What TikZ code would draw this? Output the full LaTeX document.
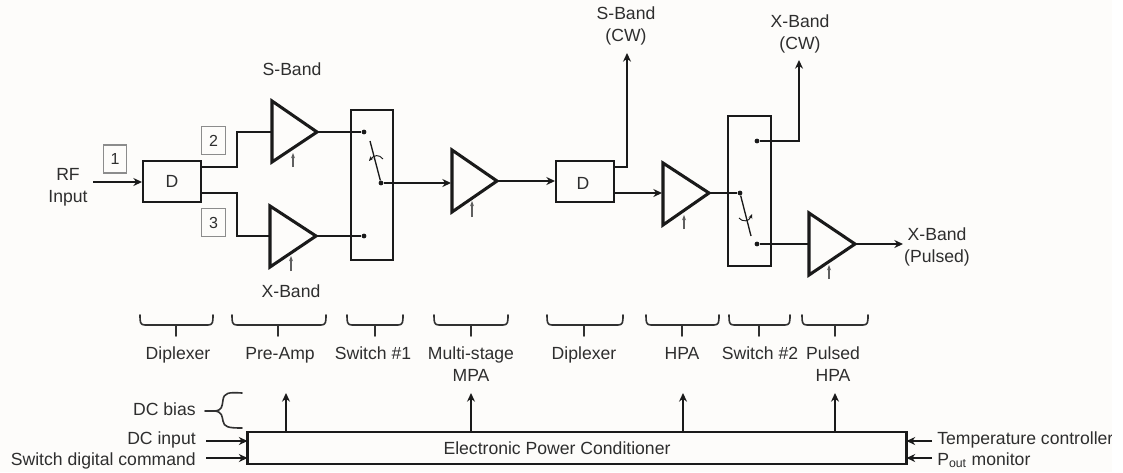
\documentclass[tikz,border=0pt]{standalone}
\usepackage{fontspec}
\setmainfont{Liberation Sans}
\usetikzlibrary{arrows.meta}
\definecolor{ink}{HTML}{1A1A1A}
\definecolor{txt}{HTML}{2E2E2E}
\definecolor{paper}{HTML}{FDFCFA}
\tikzset{
  wire/.style={draw=ink,line width=1.9pt},
  wirearrow/.style={wire,-{Stealth[length=6.5pt,width=6pt]}},
  thinarrow/.style={draw=ink!70,line width=0.9pt,-{Stealth[length=4pt,width=3pt]}},
  amp/.style={draw=ink,line width=2.3pt,line join=miter,fill=none},
  blk/.style={draw=ink,line width=1.9pt,inner sep=0pt,outer sep=0pt,font=\fontsize{13.2pt}{15pt}\selectfont,text=txt},
  epc/.style={draw=ink,line width=1.7pt,inner sep=0pt,outer sep=0pt,font=\fontsize{13.2pt}{15pt}\selectfont,text=txt},
  tag/.style={draw=ink!50,line width=0.9pt,inner sep=0pt,outer sep=0pt,font=\fontsize{12pt}{14pt}\selectfont,text=txt,minimum width=17.5pt,minimum height=21pt},
  lbl/.style={inner sep=0pt,text=txt,align=center,font=\fontsize{13.2pt}{16.5pt}\selectfont},
  one/.style={lbl,text height=10pt,text depth=0.5pt},
  dot/.style={circle,fill=ink,inner sep=0pt,minimum size=3.6pt},
  brc/.style={draw=ink!90,line width=1.2pt,line cap=round},
}
\newcommand\underbrc[3]{%
  \draw[brc] (#1,315) .. controls (#1,322) and (#1,325) .. (#1+5,325) -- (#2-5,325) .. controls (#2,325) and (#2,322) .. (#2,315);
  \draw[brc] (#3,325) -- (#3,336);}
\begin{document}
\begin{tikzpicture}[x=0.75pt,y=-0.75pt]
\useasboundingbox (0,0) rectangle (1123,472);
\fill[white] (0,0) rectangle (1123,472);
\fill[paper] (0,0) rectangle (1112,472);

% blocks
\node[blk,minimum width=43.5pt,minimum height=30.75pt] (d1) at (172,181.5) {D};
\node[blk,minimum width=43.5pt,minimum height=30.75pt] (d2) at (585,181.5) {};
\node[one] (d2t) at (583,183) {D};
\node[blk,minimum width=31.5pt,minimum height=112.5pt] (sw1) at (372,185) {};
\node[blk,minimum width=32.25pt,minimum height=112.5pt] (sw2) at (749.5,191) {};
\node[epc,minimum width=494.25pt,minimum height=24pt] (pc) at (577,448) {};
\node[one] (pct) at (557,448) {Electronic Power Conditioner};

% amplifier corners
\coordinate (a1t) at (272,101); \coordinate (a1b) at (272,162); \coordinate (a1o) at (317,132); \coordinate (a1i) at (272,132);
\coordinate (a2t) at (270,206); \coordinate (a2b) at (270,267); \coordinate (a2o) at (316,236); \coordinate (a2i) at (270,236);
\coordinate (a3t) at (452,150); \coordinate (a3b) at (452,212); \coordinate (a3o) at (497,181); \coordinate (a3i) at (451,183);
\coordinate (a4t) at (663,163); \coordinate (a4b) at (663,225); \coordinate (a4o) at (709,193); \coordinate (a4i) at (662,193);
\coordinate (a5t) at (809,213); \coordinate (a5b) at (809,275); \coordinate (a5o) at (855,244); \coordinate (a5i) at (809,244);
\draw[amp] (a1t) -- (a1b) -- (a1o) -- cycle;
\draw[amp] (a2t) -- (a2b) -- (a2o) -- cycle;
\draw[amp] (a3t) -- (a3b) -- (a3o) -- cycle;
\draw[amp] (a4t) -- (a4b) -- (a4o) -- cycle;
\draw[amp] (a5t) -- (a5b) -- (a5o) -- cycle;

% switch contacts
\node[dot] (s1a) at (364,132) {};
\node[dot] (s1b) at (364,236) {};
\node[dot] (s1c) at (381,183) {};
\node[dot] (s2c) at (740,193) {};
\node[dot] (s2a) at (757,141) {};
\node[dot] (s2b) at (757,244) {};
\coordinate (s1tip) at (370,141);
\coordinate (s2tip) at (751,236);
\draw[draw=ink,line width=1pt] (s1c) -- (s1tip);
\draw[draw=ink,line width=1pt] (s2c) -- (s2tip);
\draw[draw=ink,line width=0.7pt,-{Stealth[length=3.5pt,width=3pt]}] (383,159) .. controls (379,154) and (374,155) .. (369,161);
\draw[draw=ink,line width=0.7pt,-{Stealth[length=3.5pt,width=3pt]}] (739,218) .. controls (742,222) and (749,222) .. (752,214);

% wiring
\coordinate (rf) at (93,182);
\draw[wirearrow] (rf) -- (142,182);
\coordinate (d1u) at (201,167); \coordinate (d1l) at (201,193);
\draw[wire] (d1u) -- (237,167) -- (237,132) -- (a1i);
\draw[wire] (d1l) -- (237,193) -- (237,236) -- (a2i);
\draw[wire] (a1o) -- (s1a);
\draw[wire] (a2o) -- (s1b);
\draw[wirearrow] (s1c) -- (a3i);
\coordinate (d2i) at (555,181);
\draw[wirearrow] (a3o) -- (d2i);
\coordinate (d2u) at (614,167); \coordinate (d2l) at (614,193);
\coordinate (sout) at (627,53);
\draw[wirearrow,line width=1.5pt] (d2u) -- (627,167) -- (sout);
\draw[wirearrow] (d2l) -- (a4i);
\draw[wire,line width=1.5pt] (a4o) -- (s2c);
\coordinate (xout) at (799,60);
\draw[wirearrow,line width=1.5pt] (s2a) -- (799,141) -- (xout);
\draw[wire] (s2b) -- (a5i);
\coordinate (pout) at (903,244);
\draw[wirearrow] (a5o) -- (pout);

% amplifier bias stubs
\coordinate (b1) at (293,167); \coordinate (b1e) at (293,153);
\coordinate (b2) at (291,271); \coordinate (b2e) at (291,256);
\coordinate (b3) at (472,217); \coordinate (b3e) at (472,201);
\coordinate (b4) at (684,229); \coordinate (b4e) at (684,215);
\coordinate (b5) at (829,279); \coordinate (b5e) at (829,265);
\draw[thinarrow] (b1) -- (b1e);
\draw[thinarrow] (b2) -- (b2e);
\draw[thinarrow] (b3) -- (b3e);
\draw[thinarrow] (b4) -- (b4e);
\draw[thinarrow] (b5) -- (b5e);

% numbered tags
\node[tag] (t1) at (115,159) {1};
\node[tag] (t2) at (213.5,140.5) {2};
\node[tag] (t3) at (213.5,222.5) {3};

% top labels
\node[lbl] (rfl) at (68,187.5) {RF\\Input};
\node[one] (sb) at (292,69) {S-Band};
\node[one] (xb) at (291,291) {X-Band};
\node[lbl] (scw) at (626,26) {S-Band\\(CW)};
\node[lbl] (xcw) at (800,34) {X-Band\\(CW)};
\node[lbl] (xp) at (937,247) {X-Band\\(Pulsed)};

% braces
\underbrc{140}{213}{176}
\underbrc{232}{326}{278}
\underbrc{347}{403}{375}
\underbrc{434}{508}{471}
\underbrc{547}{623}{584}
\underbrc{646}{719}{682}
\underbrc{729}{790}{759}
\underbrc{802}{868}{835}

\node[one] (l1) at (178,353) {Diplexer};
\node[one] (l2) at (280,353) {Pre-Amp};
\node[one] (l3) at (373,353) {Switch \#1};
\node[lbl,anchor=north] (l4) at (471,346) {Multi-stage\\MPA};
\node[one] (l5) at (584,353) {Diplexer};
\node[one] (l6) at (682,353) {HPA};
\node[one] (l7) at (760,353) {Switch \#2};
\node[lbl,anchor=north] (l8) at (833,346) {Pulsed\\HPA};

% power conditioner links
\coordinate (o1) at (286,393); \coordinate (o2) at (471,393); \coordinate (o3) at (683,393); \coordinate (o4) at (835,393);
\draw[wirearrow] (o1 |- pc.north) -- (o1);
\draw[wirearrow] (o2 |- pc.north) -- (o2);
\draw[wirearrow] (o3 |- pc.north) -- (o3);
\draw[wirearrow] (o4 |- pc.north) -- (o4);

\node[one,anchor=east] (dcb) at (196,409) {DC bias};
\node[one,anchor=east] (dci) at (196,438) {DC input};
\node[one,anchor=east] (swc) at (196,459) {Switch digital command};
\coordinate (i1) at (206,441); \coordinate (i2) at (206,458);
\draw[wirearrow] (i1) -- (i1 -| pc.west);
\draw[wirearrow] (i2) -- (i2 -| pc.west);
\node[one,anchor=west] (tc) at (937,438) {Temperature controller};
\node[one,anchor=west] (pm) at (937,459) {P\textsubscript{out} monitor};
\coordinate (i3) at (932,441); \coordinate (i4) at (932,458);
\draw[wirearrow] (i3) -- (i3 -| pc.east);
\draw[wirearrow] (i4) -- (i4 -| pc.east);

% DC bias brace
\coordinate (bt) at (242,393); \coordinate (bb) at (242,428); \coordinate (bm) at (205,411);
\draw[brc] (bt) .. controls (228,392) and (224,393) .. (223,400) .. controls (222,407) and (222,410) .. (215,411) -- (bm);
\draw[brc] (215,411) .. controls (222,412) and (222,416) .. (223,421) .. controls (224,427) and (228,428) .. (bb);

\fill[white] (1112,425) rectangle (1123,472);
\end{tikzpicture}
\end{document}
